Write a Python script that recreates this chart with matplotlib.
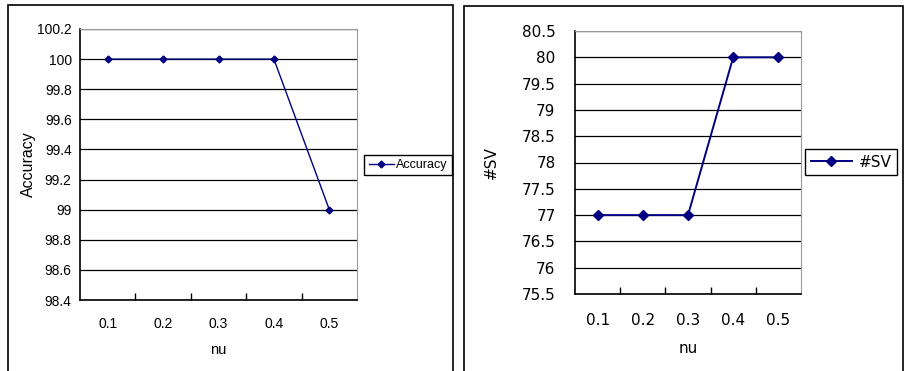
import matplotlib
matplotlib.use("Agg")
import matplotlib.pyplot as plt
from matplotlib.patches import Rectangle
from matplotlib.ticker import FixedLocator, MultipleLocator

nu_labels = ["0.1", "0.2", "0.3", "0.4", "0.5"]
accuracy = [100, 100, 100, 100, 99]
num_sv = [77, 77, 77, 80, 80]

NAVY = "#000080"
W, H = 908, 371

fig = plt.figure(figsize=(W / 100, H / 100), dpi=100)


def px_axes(x0, y0, x1, y1):
    return fig.add_axes([x0 / W, 1 - y1 / H, (x1 - x0) / W, (y1 - y0) / H])


def style_axes(ax, ymin, ymax, step, font, size, pad_x, pad_y):
    n = len(nu_labels)
    ax.set_xlim(-0.5, n - 0.5)
    ax.set_ylim(ymin, ymax)
    ax.yaxis.set_major_locator(MultipleLocator(step))
    ax.set_xticks(range(n))
    ax.set_xticklabels(nu_labels, family=font, fontsize=size)
    ax.xaxis.set_minor_locator(FixedLocator([i + 0.5 for i in range(n - 1)]))
    ax.tick_params(axis="x", which="major", length=0, pad=pad_x)
    ax.tick_params(axis="x", which="minor", direction="in", length=5,
                   width=1, color="black")
    ax.tick_params(axis="y", direction="in", length=0, pad=pad_y,
                   labelsize=size)
    for lab in ax.get_yticklabels():
        lab.set_family(font)
    ax.yaxis.set_major_formatter(
        lambda v, p: ("%.1f" % v).rstrip("0").rstrip("."))
    ax.grid(axis="y", color="black", lw=0.9)
    ax.set_axisbelow(True)
    for s in ["top", "right"]:
        ax.spines[s].set_color("#9a9a9a")
    for s in ["left", "bottom"]:
        ax.spines[s].set_color("black")
        ax.spines[s].set_linewidth(1.2)


# outer frames
fig.add_artist(Rectangle((8 / W, -0.02), 445 / W, 1 - 5 / H + 0.02,
                         transform=fig.transFigure, fill=False,
                         ec="black", lw=1.2))
fig.add_artist(Rectangle((464 / W, -0.02), 439 / W, 1 - 6 / H + 0.02,
                         transform=fig.transFigure, fill=False,
                         ec="black", lw=1.2))

x = range(len(nu_labels))

# left panel: accuracy
ax1 = px_axes(80, 29, 357, 300)
ax1.plot(x, accuracy, color=NAVY, lw=1.0, marker="D", ms=3.5,
         label="Accuracy")
style_axes(ax1, 98.4, 100.2, 0.2, "Liberation Sans", 10, 12, 6)
ax1.set_xlabel("nu", family="Liberation Sans", fontsize=10.5)
ax1.set_ylabel("Accuracy", family="Liberation Sans", fontsize=11.5)
ax1.xaxis.set_label_coords(0.5, -0.158)
ax1.yaxis.set_label_coords(-0.16, 0.5)
leg1 = ax1.legend(loc="center", bbox_to_anchor=(408 / W, 1 - 165 / H),
                  bbox_transform=fig.transFigure, fancybox=False,
                  edgecolor="black", framealpha=1, handlelength=2.0,
                  handletextpad=0.2, borderpad=0.35, borderaxespad=0,
                  prop={"family": "Liberation Sans", "size": 9})
leg1.get_frame().set_linewidth(1.0)

# right panel: #SV
ax2 = px_axes(575, 31, 801, 294)
ax2.plot(x, num_sv, color=NAVY, lw=1.4, marker="D", ms=5.5, label="#SV")
style_axes(ax2, 75.5, 80.5, 0.5, "DejaVu Sans", 11, 14, 14)
ax2.set_xlabel("nu", family="DejaVu Sans", fontsize=11)
ax2.set_ylabel("#SV", family="DejaVu Sans", fontsize=11)
ax2.xaxis.set_label_coords(0.5, -0.178)
ax2.yaxis.set_label_coords(-0.335, 0.5)
leg2 = ax2.legend(loc="center", bbox_to_anchor=(851 / W, 1 - 162 / H),
                  bbox_transform=fig.transFigure, fancybox=False,
                  edgecolor="black", framealpha=1, handlelength=2.7,
                  handletextpad=0.45, borderpad=0.35, borderaxespad=0,
                  prop={"family": "DejaVu Sans", "size": 11})
leg2.get_frame().set_linewidth(1.0)

fig.savefig("out.png", dpi=100)
